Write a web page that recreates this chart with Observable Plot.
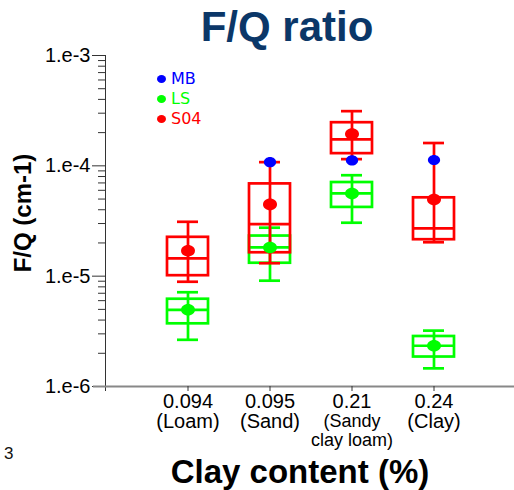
<!DOCTYPE html>
<html>
<head>
<meta charset="utf-8">
<script src="https://cdn.jsdelivr.net/npm/d3@7"></script>
<script src="https://cdn.jsdelivr.net/npm/@observablehq/plot@0.6"></script>
<style>
  html, body { margin: 0; padding: 0; background: #fff; }
  #wrap { position: relative; width: 514px; height: 490px; overflow: hidden; font-family: "Liberation Sans", Arial, sans-serif; }
  #wrap svg { position: absolute; left: 0; top: 0; }
  .abs { position: absolute; white-space: nowrap; line-height: 1; }
  #title { left: 0; width: 574px; top: 6px; text-align: center; font-weight: bold; font-size: 42px; color: #0b3768; }
  #ylab { left: 23px; top: 213px; transform: translate(-50%, -50%) rotate(-90deg); font-weight: bold; font-size: 24px; color: #000; }
  #xlab { left: 0; width: 600px; top: 455px; text-align: center; font-weight: bold; font-size: 33px; color: #000; }
  #page { left: 4px; top: 445px; font-size: 17px; color: #111; }
  #legend { left: 157px; top: 69px; font-family: "DejaVu Sans", Verdana, sans-serif; font-size: 16px; }
  #legend div { height: 20px; display: flex; align-items: center; }
  #legend span.dot { display: inline-block; width: 9px; height: 8px; border-radius: 50%; margin-right: 5px; }
</style>
</head>
<body>
<div id="wrap">
  <div id="title" class="abs">F/Q ratio</div>
  <div id="ylab" class="abs">F/Q (cm-1)</div>
  <div id="xlab" class="abs">Clay content (%)</div>
  <div id="page" class="abs">3</div>
  <div id="legend" class="abs"></div>
</div>
<script>
// ---- data ----
const categories = ["0.094", "0.095", "0.21", "0.24"];
const soilLabels = ["(Loam)", "(Sand)", "(Sandy\nclay loam)", "(Clay)"];

const seriesNames = ["MB", "LS", "S04"];
const seriesColors = ["#0000ff", "#00ff00", "#ff0000"];

// S04 (red)
const s04Low    = [8.9e-6, 1.31e-5, 1.15e-4, 2.03e-5];
const s04Q1     = [1.01e-5, 1.63e-5, 1.29e-4, 2.14e-5];
const s04Median = [1.45e-5, 2.96e-5, 1.74e-4, 2.71e-5];
const s04Q3     = [2.25e-5, 6.86e-5, 2.46e-4, 5.13e-5];
const s04High   = [3.11e-5, 1.08e-4, 3.13e-4, 1.61e-4];
const s04Mean   = [1.70e-5, 4.47e-5, 1.94e-4, 4.96e-5];

// LS (green)
const lsLow    = [2.65e-6, 9.1e-6, 3.05e-5, 1.46e-6];
const lsQ1     = [3.70e-6, 1.31e-5, 4.20e-5, 1.85e-6];
const lsMedian = [4.95e-6, 1.82e-5, 5.62e-5, 2.34e-6];
const lsQ3     = [6.18e-6, 2.31e-5, 7.06e-5, 2.84e-6];
const lsHigh   = [7.15e-6, 2.75e-5, 8.22e-5, 3.21e-6];
const lsMean   = [4.95e-6, 1.82e-5, 5.62e-5, 2.34e-6];

// MB (blue) – single values
const mbCategories = ["0.095", "0.21", "0.24"];
const mbValues     = [1.08e-4, 1.12e-4, 1.13e-4];

// y axis ticks
const yMajorTicks = [1e-6, 1e-5, 1e-4, 1e-3];
const yMajorLabels = ["1.e-6", "1.e-5", "1.e-4", "1.e-3"];
const yMinorTicks = [];
for (const dec of [1e-6, 1e-5, 1e-4]) for (let m = 2; m <= 9; m++) yMinorTicks.push(m * dec);

// ---- build tables ----
function boxTable(name, low, q1, med, q3, high, mean) {
  return categories.map((c, i) => ({series: name, cat: c, low: low[i], q1: q1[i], median: med[i], q3: q3[i], high: high[i], mean: mean[i]}));
}
const ls = boxTable("LS", lsLow, lsQ1, lsMedian, lsQ3, lsHigh, lsMean);
const s04 = boxTable("S04", s04Low, s04Q1, s04Median, s04Q3, s04High, s04Mean);
const mb = mbCategories.map((c, i) => ({series: "MB", cat: c, value: mbValues[i]}));
const colorOf = Object.fromEntries(seriesNames.map((n, i) => [n, seriesColors[i]]));

// ellipse symbol (wider than tall)
const ellipse = {
  draw(ctx, size) {
    const r = Math.sqrt(size / Math.PI);
    const rx = r * 1.11, ry = r * 0.92, k = 0.5523;
    ctx.moveTo(rx, 0);
    ctx.bezierCurveTo(rx, k * ry, k * rx, ry, 0, ry);
    ctx.bezierCurveTo(-k * rx, ry, -rx, k * ry, -rx, 0);
    ctx.bezierCurveTo(-rx, -k * ry, -k * rx, -ry, 0, -ry);
    ctx.bezierCurveTo(k * rx, -ry, rx, -k * ry, rx, 0);
    ctx.closePath();
  }
};

function boxMarks(data, color) {
  const sw = 2.7;
  return [
    Plot.ruleX(data, {x: "cat", y1: "low", y2: "high", stroke: color, strokeWidth: sw}),
    Plot.tickY(data, {x: "cat", y: "low", stroke: color, strokeWidth: sw, insetLeft: 10, insetRight: 10}),
    Plot.tickY(data, {x: "cat", y: "high", stroke: color, strokeWidth: sw, insetLeft: 10, insetRight: 10}),
    Plot.rectY(data, {x: "cat", y1: "q1", y2: "q3", stroke: color, strokeWidth: sw, fill: "none"}),
    Plot.tickY(data, {x: "cat", y: "median", stroke: color, strokeWidth: sw})
  ];
}

const plot = Plot.plot({
  width: 514,
  height: 490,
  marginTop: 55,
  marginBottom: 104,
  marginLeft: 105,
  marginRight: 0,
  style: {fontFamily: "'Liberation Sans', Arial, sans-serif", fontSize: "20px", color: "#000", background: "transparent", overflow: "visible"},
  x: {type: "band", domain: categories, range: [105, 516], paddingInner: 0.5, paddingOuter: 0.75, align: 0.5},
  y: {type: "log", domain: [1e-6, 1e-3]},
  marks: [
    // axes
    Plot.axisY(yMinorTicks, {tickSize: 7, tickFormat: () => "", stroke: "#333", label: null}),
    Plot.axisY(yMajorTicks, {tickSize: 13, tickPadding: 2, tickFormat: (d) => yMajorLabels[yMajorTicks.indexOf(d)], stroke: "#333", fontSize: 20, label: null}),
    Plot.frame({anchor: "left", stroke: "#333", insetBottom: -4}),
    Plot.ruleY([1e-6], {stroke: "#888", strokeWidth: 2, insetLeft: -12}),
    Plot.axisX({tickSize: 5, tickPadding: 2, stroke: "#333", fontSize: 20, label: null}),
    Plot.text(categories.filter((c, i) => !soilLabels[i].includes("\n")), {
      x: (d) => d, text: (d) => soilLabels[categories.indexOf(d)],
      frameAnchor: "bottom", lineAnchor: "top", dy: 27, fontSize: 20, fill: "#000"
    }),
    Plot.text(categories.filter((c, i) => soilLabels[i].includes("\n")), {
      x: (d) => d, text: (d) => soilLabels[categories.indexOf(d)],
      frameAnchor: "bottom", lineAnchor: "top", dy: 27, fontSize: 18, lineHeight: 1.05, fill: "#000"
    }),
    // boxes
    ...boxMarks(ls, colorOf.LS),
    ...boxMarks(s04, colorOf.S04),
    Plot.dot(ls, {x: "cat", y: "mean", fill: colorOf.LS, r: 6.3, symbol: ellipse}),
    Plot.dot(s04, {x: "cat", y: "mean", fill: colorOf.S04, r: 6.3, symbol: ellipse}),
    Plot.dot(mb, {x: "cat", y: "value", fill: colorOf.MB, r: 5.5, symbol: ellipse})
  ]
});
document.getElementById("wrap").prepend(plot);

// legend
const legend = document.getElementById("legend");
seriesNames.forEach((n, i) => {
  const row = document.createElement("div");
  row.innerHTML = `<span class="dot" style="background:${seriesColors[i]}"></span><span style="color:${seriesColors[i]}">${n}</span>`;
  legend.appendChild(row);
});
</script>
</body>
</html>
